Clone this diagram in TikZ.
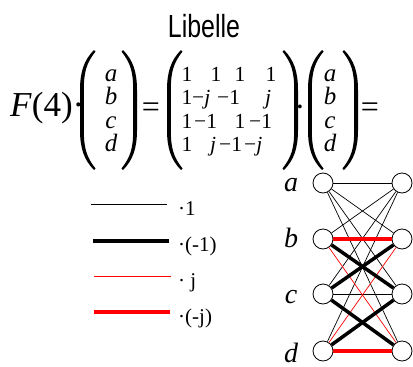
\documentclass[tikz,border=0pt]{standalone}
\usepackage{fontspec}
\setmainfont{Liberation Serif}
\newfontfamily\narrowsans[FakeStretch=0.78]{Liberation Sans}
\usepackage{tikz}
\usetikzlibrary{positioning}

\tikzset{
  paren/.pic={
    \fill (14,-60) .. controls (4,-50) and (0,-38) .. (0,-20) -- (0,20)
      .. controls (0,38) and (4,50) .. (14,60) -- (15.5,58.5)
      .. controls (6.5,47) and (3.8,38) .. (3.8,20) -- (3.8,-20)
      .. controls (3.8,-38) and (6.5,-47) .. (15.5,-58.5) -- cycle;
  }
}

\begin{document}
\begin{tikzpicture}[x=1pt, y=-1pt,
  ent/.style={font=\fontsize{21.5}{24}\selectfont, inner sep=0pt, anchor=base west},
  var/.style={font=\fontsize{25}{28}\selectfont\itshape, inner sep=0pt, anchor=base},
  sym/.style={font=\fontsize{32}{36}\selectfont, inner sep=0pt, anchor=base},
  lbl/.style={font=\fontsize{28}{32}\selectfont\itshape, inner sep=0pt, anchor=base},
  leg/.style={font=\fontsize{21}{24}\selectfont, inner sep=0pt, anchor=base west},
  vtx/.style={draw, circle, fill=white, minimum size=20pt, inner sep=0pt, line width=0.8pt},
  one/.style={line width=0.7pt},
  mone/.style={line width=3.5pt},
  jay/.style={red, line width=0.7pt},
  mjay/.style={red, line width=3.5pt},
  ]
  \useasboundingbox (0,0) rectangle (413,367);

  % title and equation
  \node[inner sep=0pt, anchor=base, font=\narrowsans\fontsize{32}{36}\selectfont]
    (title) at (204,37) {Libelle};
  \node[inner sep=0pt, anchor=base west, font=\fontsize{35}{40}\selectfont]
    (f4) at (10,116) {\textit{F}(4)·};

  \pic at (80,110) {paren};
  \pic[xscale=-1] at (137,110) {paren};
  \node[var] (va) at (111,81) {a};
  \node[var] (vb) at (111,104.5) {b};
  \node[var] (vc) at (111,128) {c};
  \node[var] (vd) at (111,151.5) {d};
  \node[sym] (eq1) at (151,117) {=};

  \pic at (167,110) {paren};
  \pic[xscale=-1] at (298,110) {paren};
  \node[ent] (m11) at (181.5,81) {1};
  \node[ent] (m12) at (210.5,81) {1};
  \node[ent] (m13) at (234.5,81) {1};
  \node[ent] (m14) at (265.5,81) {1};
  \node[ent] (m21) at (181.5,104.5) {1};
  \node[ent] (m22) at (192,104.5) {−\textit{j}};
  \node[ent] (m23) at (217,104.5) {−1};
  \node[ent] (m24) at (265,104.5) {\textit{j}};
  \node[ent] (m31) at (181.5,128) {1};
  \node[ent] (m32) at (194,128) {−1};
  \node[ent] (m33) at (234.5,128) {1};
  \node[ent] (m34) at (249,128) {−1};
  \node[ent] (m41) at (181.5,151.5) {1};
  \node[ent] (m42) at (210,151.5) {\textit{j}};
  \node[ent] (m43) at (219,151.5) {−1};
  \node[ent] (m44) at (244,151.5) {−\textit{j}};
  \node[sym] (dot) at (300,117) {·};

  \pic at (308,110) {paren};
  \pic[xscale=-1] at (358,110) {paren};
  \node[var] (wa) at (330,81) {a};
  \node[var] (wb) at (330,104.5) {b};
  \node[var] (wc) at (330,128) {c};
  \node[var] (wd) at (330,151.5) {d};
  \node[sym] (eq2) at (370,117) {=};

  % legend
  \coordinate (s1) at (91,204);  \coordinate (e1) at (167,204);
  \coordinate (s2) at (93,241);  \coordinate (e2) at (169,241);
  \coordinate (s3) at (94,276);  \coordinate (e3) at (171,276);
  \coordinate (s4) at (94,312);  \coordinate (e4) at (170,312);
  \draw[one] (s1) -- (e1);
  \draw[mone] (s2) -- (e2);
  \draw[jay] (s3) -- (e3);
  \draw[mjay] (s4) -- (e4);
  \node[leg] (k1) at (178,215) {·1};
  \node[leg] (k2) at (178,251) {·(-1)};
  \node[leg] (k3) at (178,287) {· j};
  \node[leg] (k4) at (178,323) {·(-j)};

  % butterfly graph
  \node[vtx] (la) at (323,183) {};
  \node[vtx] (lb) at (323,239) {};
  \node[vtx] (lc) at (323,294) {};
  \node[vtx] (ld) at (323,351) {};
  \node[vtx] (ra) at (402,183) {};
  \node[vtx] (rb) at (402,239) {};
  \node[vtx] (rc) at (402,294) {};
  \node[vtx] (rd) at (402,351) {};
  \node[lbl] (na) at (291,191) {a};
  \node[lbl] (nb) at (291,247) {b};
  \node[lbl] (nc) at (291,303) {c};
  \node[lbl] (nd) at (291,362) {d};

  \draw[one] (la) -- (ra);
  \draw[one] (la) -- (rb);
  \draw[one] (la) -- (rc);
  \draw[one] (la) -- (rd);
  \draw[one] (lb) -- (ra);
  \draw[one] (lc) -- (ra);
  \draw[one] (ld) -- (ra);
  \draw[one] (lc) -- (rc);
  \draw[jay] (lb) -- (rd);
  \draw[jay] (ld) -- (rb);
  \draw[mone] (lb) -- (rc);
  \draw[mone] (lc) -- (rb);
  \draw[mone] (lc) -- (rd);
  \draw[mone] (ld) -- (rc);
  \draw[mjay] (lb) -- (rb);
  \draw[mjay] (ld) -- (rd);
\end{tikzpicture}
\end{document}
